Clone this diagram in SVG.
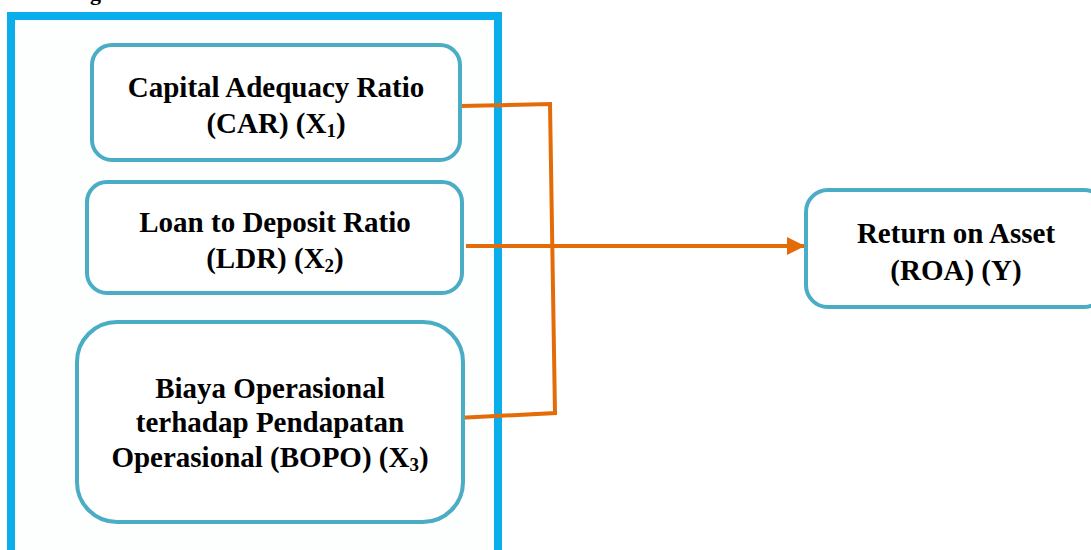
<svg xmlns="http://www.w3.org/2000/svg" width="1091" height="550" viewBox="0 0 1091 550">
<style>
.frame{fill:#FDFFFE;stroke:#0AAEEA;stroke-width:8}
.box{fill:#FFFFFF;stroke:#4BACC6;stroke-width:4}
.t{font-family:"Liberation Serif","Times New Roman",serif;font-weight:bold;font-size:29px;fill:#000;text-anchor:middle}
.sub{font-size:19px}
.con{fill:none;stroke:#E36C09;stroke-width:4;stroke-linejoin:miter}
</style>
<defs>
<marker id="arr" viewBox="0 0 10 10" refX="10" refY="5" markerWidth="4.5" markerHeight="4.5" orient="auto" markerUnits="strokeWidth">
<path d="M0,0 L10,5 L0,10 z" fill="#E36C09"/>
</marker>
</defs>
<text x="30" y="0" font-family="Liberation Serif, serif" font-weight="bold" font-size="22" fill="#000">Kerangka Pemikiran</text>
<rect id="frame" class="frame" x="11" y="16" width="487" height="544"/>
<g id="connectors">
<path class="con" d="M460,106 L550,104 L555,413 L457,418"/>
<path class="con" d="M466,246 L805,246" marker-end="url(#arr)"/>
</g>
<g id="car">
<rect class="box" x="92" y="45" width="368" height="115" rx="20"/>
<text class="t" x="276" y="97">Capital Adequacy Ratio</text>
<text class="t" x="276" y="133">(CAR) (X<tspan class="sub" dy="4">1</tspan><tspan dy="-4">)</tspan></text>
</g>
<g id="ldr">
<rect class="box" x="87" y="182" width="375" height="111" rx="20"/>
<text class="t" x="275" y="232">Loan to Deposit Ratio</text>
<text class="t" x="275" y="268">(LDR) (X<tspan class="sub" dy="4">2</tspan><tspan dy="-4">)</tspan></text>
</g>
<g id="bopo">
<rect class="box" x="77" y="322" width="386" height="200" rx="40"/>
<text class="t" x="270" y="398">Biaya Operasional</text>
<text class="t" x="270" y="432">terhadap Pendapatan</text>
<text class="t" x="270" y="467">Operasional (BOPO) (X<tspan class="sub" dy="4">3</tspan><tspan dy="-4">)</tspan></text>
</g>
<g id="roa">
<rect class="box" x="806" y="190" width="300" height="117" rx="22"/>
<text class="t" x="956" y="243">Return on Asset</text>
<text class="t" x="956" y="280">(ROA) (Y)</text>
</g>
</svg>
